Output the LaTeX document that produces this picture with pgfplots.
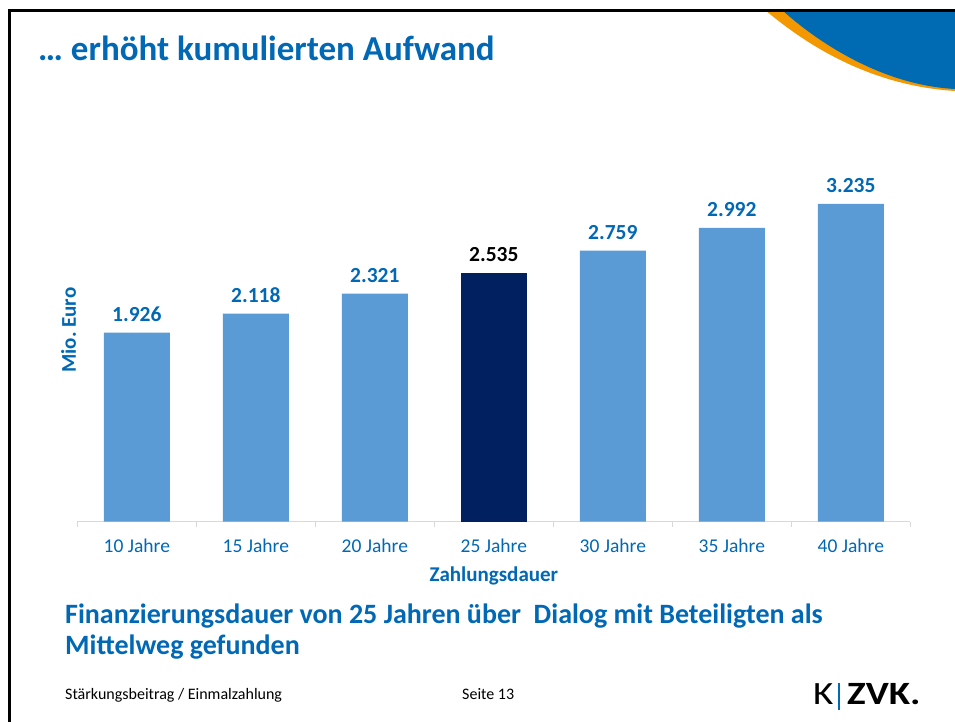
\documentclass[border=0pt]{standalone}
\usepackage{pgfplots}
\pgfplotsset{compat=1.18}
\usepackage{fontspec}
\setmainfont{Carlito}
\frenchspacing
\definecolor{tblue}{RGB}{0,104,180}
\definecolor{barblue}{RGB}{91,155,213}
\definecolor{navy}{RGB}{0,32,96}
\definecolor{axgray}{RGB}{217,217,217}
\definecolor{arcblue}{RGB}{0,106,179}
\definecolor{arcorange}{RGB}{243,152,0}
\begin{document}
\begin{tikzpicture}[x=1pt,y=1pt]
\useasboundingbox (0,0) rectangle (955,722);
\fill[white] (0,0) rectangle (955,722);
% decorative arc (top right)
\begin{scope}[yshift=722pt,yscale=-1]
\fill[arcorange] (765,10) .. controls (795,35) and (860,85) .. (955,91) -- (955,10) -- cycle;
\fill[arcblue] (782,10) .. controls (815,40) and (880,85) .. (955,89) -- (955,10) -- cycle;
\draw[black,line width=3pt] (9.7,722) -- (9.7,10.3) -- (955,10.3);
\end{scope}
% title
\node[anchor=base west,inner sep=0,text=tblue,font=\fontsize{35}{40}\selectfont\bfseries] at (38,661) {\dots{} erhöht kumulierten Aufwand};
% chart
\begin{axis}[
  at={(65,204)}, anchor=south west,
  scale only axis, width=833pt, height=383pt,
  xmin=-0.5, xmax=6.5, ymin=0, ymax=3.9,
  ybar, bar width=66pt,
  axis y line=none,
  axis x line*=bottom,
  x axis line style={draw=axgray,line width=1pt,-},
  xtick={0,...,6},
  xticklabels={10 Jahre,15 Jahre,20 Jahre,25 Jahre,30 Jahre,35 Jahre,40 Jahre},
  major tick length=0pt,
  minor xtick={-0.5,0.5,...,6.5},
  minor tick length=5pt,
  tick align=outside,
  every tick/.style={draw=axgray,line width=1pt},
  xticklabel style={font=\fontsize{19.5}{23}\selectfont, text=tblue, anchor=base, yshift=-31pt},
  xlabel={Zahlungsdauer},
  xlabel style={at={(axis description cs:0.5,0)}, anchor=base, yshift=-60pt, font=\fontsize{21}{25}\selectfont\bfseries, text=tblue},
  nodes near coords={\pgfmathprintnumber[fixed,fixed zerofill,precision=3,assume math mode=true]{\pgfplotspointmeta}},
  every node near coord/.append style={font=\fontsize{21.5}{25}\selectfont\bfseries, anchor=base, yshift=11pt},
  clip=false,
]
\addplot[bar shift=0pt, fill=barblue, draw=none, every node near coord/.append style={text=tblue}]
  coordinates {(0,1.926) (1,2.118) (2,2.321) (4,2.759) (5,2.992) (6,3.235)};
\addplot[bar shift=0pt, fill=navy, draw=none, every node near coord/.append style={text=black}]
  coordinates {(3,2.535)};
\node[rotate=90, anchor=south, inner sep=1pt, text=tblue, font=\fontsize{21}{25}\selectfont\bfseries] at (axis description cs:0,0.5) {Mio.\ Euro};
\end{axis}
% bottom statement
\node[anchor=base west,inner sep=0,text=tblue,font=\fontsize{28}{33}\selectfont\bfseries] at (65,98) {Finanzierungsdauer von 25 Jahren über\ \ Dialog mit Beteiligten als};
\node[anchor=base west,inner sep=0,text=tblue,font=\fontsize{28}{33}\selectfont\bfseries] at (65,67) {Mittelweg gefunden};
% footer
\node[anchor=base west,inner sep=0,font=\fontsize{16}{19}\selectfont] at (65,22) {Stärkungsbeitrag / Einmalzahlung};
\node[anchor=base west,inner sep=0,font=\fontsize{16}{19}\selectfont] at (462,22) {Seite 13};
% logo
\node[anchor=base west,inner sep=0,font=\fontsize{32.5}{38}\selectfont] at (813,17) {\scalebox{1.2}[1]{K}};
\fill[arcblue] (838,12) rectangle (840,39);
\node[anchor=base west,inner sep=0,font=\fontsize{32.5}{38}\selectfont\bfseries] at (847,17) {\scalebox{1.2}[1]{ZVK.}};
\end{tikzpicture}
\end{document}
